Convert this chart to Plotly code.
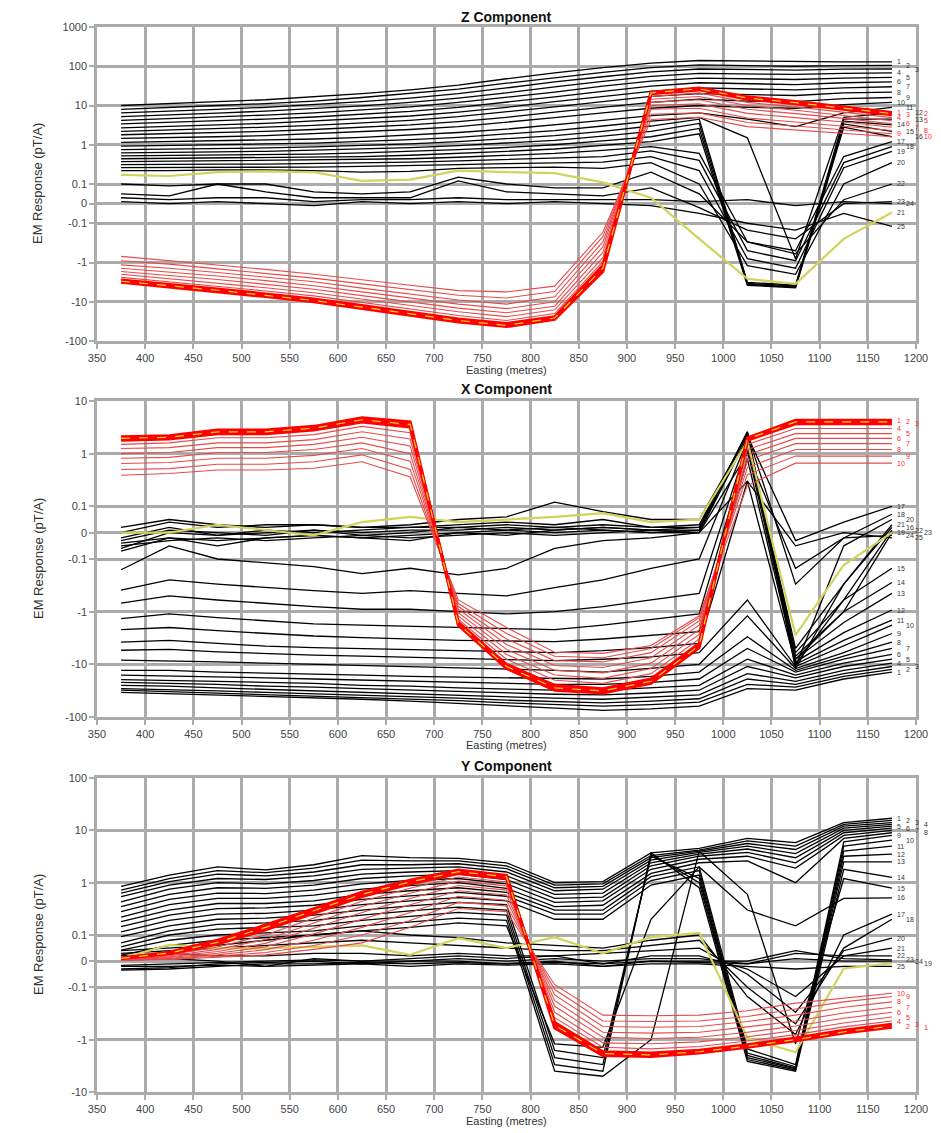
import math
import plotly.graph_objects as go

# ---------------- data ----------------
stations = [375, 425, 475, 525, 575, 625, 675, 725, 775, 825, 875, 925, 975, 1025, 1075, 1125, 1175]

# Z component, black channels 1..25 (pT/A) at each station
z_black = [
    [10, 11, 12.5, 14, 16.5, 20, 25, 33, 48, 68, 92, 120, 140, 135, 130, 130, 130],
    [8, 8.8, 10, 11.2, 13, 16, 20, 26, 37, 52, 70, 92, 108, 104, 100, 104, 105],
    [6.5, 7.1, 8, 9, 10.5, 12.5, 15.5, 20, 28, 40, 54, 72, 85, 82, 80, 84, 85],
    [5.2, 5.7, 6.4, 7.2, 8.3, 9.8, 12, 15.5, 21, 30, 41, 55, 66, 64, 62, 66, 68],
    [4.2, 4.6, 5.1, 5.7, 6.5, 7.6, 9.2, 12, 16, 22, 31, 42, 50, 48, 46, 50, 52],
    [3.4, 3.7, 4.1, 4.5, 5.1, 5.9, 7.1, 9, 12, 16.5, 23, 31, 38, 36, 34, 38, 40],
    [2.7, 2.9, 3.2, 3.5, 4, 4.6, 5.4, 6.8, 9, 12.5, 17, 23, 28, 26, 25, 28, 30],
    [2.2, 2.35, 2.55, 2.8, 3.1, 3.6, 4.2, 5.2, 6.8, 9.2, 12.5, 17, 20, 19, 18, 21, 22],
    [1.8, 1.9, 2.05, 2.2, 2.45, 2.8, 3.2, 3.9, 5, 6.8, 9, 12, 14.5, 13, 12.5, 15, 16],
    [1.45, 1.5, 1.6, 1.7, 1.9, 2.15, 2.45, 2.9, 3.7, 4.9, 6.5, 8.5, 10, 9, 8.5, 10.5, 12],
    [1.15, 1.2, 1.25, 1.3, 1.4, 1.55, 1.75, 2.05, 2.5, 3.2, 4.2, 5.5, 6.5, 4.5, 2.9, 6.5, 9],
    [0.92, 0.95, 1.0, 1.05, 1.1, 1.2, 1.35, 1.55, 1.85, 2.3, 3, 4, 5, 1.5, -0.8, 5, 6.5],
    [0.75, 0.77, 0.8, 0.83, 0.88, 0.95, 1.05, 1.2, 1.4, 1.7, 2.2, 3, 4.5, -3.2, -3.8, 4.5, 4.5],
    [0.62, 0.63, 0.66, 0.68, 0.72, 0.76, 0.84, 0.95, 1.1, 1.3, 1.65, 2.2, 3.5, -3.4, -4, 4, 3.2],
    [0.52, 0.53, 0.55, 0.56, 0.58, 0.62, 0.67, 0.75, 0.85, 1.0, 1.25, 1.6, 2.6, -3.6, -4.2, 3.4, 2.2],
    [0.44, 0.45, 0.46, 0.47, 0.48, 0.5, 0.54, 0.6, 0.68, 0.78, 0.95, 1.2, 1.9, -3.8, -4.4, 2.8, 1.6],
    [0.37, 0.38, 0.38, 0.39, 0.4, 0.41, 0.44, 0.48, 0.54, 0.6, 0.72, 0.9, 0.6, -0.3, -0.5, 0.5, 1.2],
    [0.31, 0.32, 0.32, 0.32, 0.33, 0.34, 0.36, 0.39, 0.43, 0.47, 0.5, 0.7, 0.4, -0.5, -0.9, 0.35, 0.9],
    [0.26, 0.26, 0.27, 0.27, 0.27, 0.28, 0.29, 0.31, 0.33, 0.35, 0.36, 0.5, 0.22, -0.8, -1.4, 0.26, 0.68],
    [0.22, 0.22, 0.23, 0.23, 0.22, 0.2, 0.21, 0.25, 0.26, 0.27, 0.25, 0.35, 0.1, -1.2, -2, 0.1, 0.35],
    [0.17, 0.16, 0.2, 0.21, 0.2, 0.12, 0.13, 0.22, 0.2, 0.19, 0.11, 0.03, -0.25, -2.6, -3.5, -0.25, -0.045],
    [0.1, 0.09, 0.1, 0.1, 0.06, 0.05, 0.06, 0.15, 0.1, 0.08, 0.08, 0.2, 0.05, -0.3, -0.6, 0.02, 0.1],
    [0.05, 0.04, 0.1, 0.06, 0.03, 0.03, 0.03, 0.12, 0.06, 0.05, 0.04, 0.08, -0.02, -0.15, -0.25, 0.0, 0.01],
    [0.03, 0.02, 0.03, 0.03, 0.01, 0.02, 0.02, 0.03, 0.02, 0.02, 0.02, 0.02, 0.01, 0.02, -0.01, 0.01, 0.0],
    [0.01, 0.0, 0.01, 0.0, -0.01, 0.01, 0.0, 0.01, 0.0, 0.01, 0.0, -0.01, -0.05, -0.1, -0.15, -0.05, -0.12],
]
z_yellow = 21  # channel number drawn in yellow

# Z component, red channels 1..10, one row per station
z_red_rows = [
    [-3.2, -3.0, -2.8, -2.4, -2.0, -1.7, -1.4, -1.15, -0.9, -0.7],
    [-4.2, -3.9, -3.6, -3.1, -2.6, -2.1, -1.75, -1.4, -1.1, -0.89],
    [-5.5, -5.1, -4.7, -4.0, -3.3, -2.7, -2.2, -1.8, -1.45, -1.17],
    [-7.4, -6.9, -6.3, -5.3, -4.4, -3.6, -2.9, -2.35, -1.9, -1.5],
    [-10, -9.3, -8.5, -7.1, -5.9, -4.8, -3.9, -3.1, -2.5, -2.0],
    [-14.8, -13.7, -12.5, -10.4, -8.6, -7.0, -5.6, -4.5, -3.5, -2.7],
    [-22, -20, -18.5, -15.3, -12.5, -10, -8, -6.3, -4.9, -3.8],
    [-33, -30, -27.5, -22.5, -18, -14.5, -11.5, -9, -6.8, -5.2],
    [-43, -40, -36, -30, -24, -19, -15, -11.5, -8, -5.6],
    [-28, -26, -24, -20, -16, -13, -10, -7.5, -5.5, -4.0],
    [-1.7, -1.4, -1.2, -0.95, -0.75, -0.55, -0.4, -0.3, -0.22, -0.17],
    [22, 21, 20, 17, 14.5, 12, 10, 8, 6, 4.4],
    [28, 26.5, 25, 21, 17, 14, 11, 8.5, 6.5, 5.0],
    [16.6, 15.5, 14.5, 12, 10, 8, 6.3, 4.8, 3.7, 2.9],
    [12.6, 11.8, 11, 9.2, 7.6, 6.2, 4.9, 3.8, 3.0, 2.4],
    [9.3, 8.7, 8.1, 6.8, 5.7, 4.7, 3.8, 3.0, 2.4, 2.0],
    [6.6, 6.2, 5.8, 4.9, 4.1, 3.4, 2.8, 2.3, 1.9, 1.6],
]

# X component, black channels 1..25
x_black = [
    [-34, -36, -38, -40, -43, -46, -50, -55, -60, -66, -75, -70, -62, -29, -31, -19, -14],
    [-31, -33, -35, -37, -40, -42, -45, -49, -54, -58, -62, -58, -52, -24, -27, -17, -12.5],
    [-29, -30, -32, -34, -36, -38, -41, -44, -48, -51, -54, -50, -45, -19, -24, -15, -11],
    [-25, -26, -28, -30, -32, -34, -36, -39, -42, -44, -46, -42, -38, -15, -21, -13, -9.5],
    [-22, -23, -24, -26, -27, -29, -31, -33, -35, -37, -38, -35, -31, -11, -18, -11, -8],
    [-19.5, -20, -21, -22, -23, -25, -26, -28, -29, -31, -31, -28, -25, -8, -16, -9.5, -6.5],
    [-16, -16.5, -17, -18, -19, -20, -21, -22, -23, -24, -24, -22, -19, -5, -14, -8, -5],
    [-13, -13, -14, -14.5, -15, -16, -17, -17.5, -18, -19, -19, -17, -14, -3, -13, -7, -3.8],
    [-8.3, -8.5, -9, -9.5, -10, -10.5, -11, -11.5, -12, -13, -14, -12, -10, -1.2, -12, -6, -2.6],
    [-5.4, -5.2, -5.8, -6.3, -6.7, -7.0, -7.3, -7.8, -8.2, -8.5, -8.0, -7.2, -6.0, -0.6, -11, -4.5, -1.8],
    [-3.8, -3.5, -4.0, -4.5, -4.8, -5.0, -5.2, -5.5, -5.8, -6.0, -5.5, -4.8, -4.0, 0.3, -10, -3.5, -1.45],
    [-2.2, -2.0, -2.3, -2.6, -2.9, -3.1, -3.3, -3.5, -3.6, -3.7, -3.3, -2.8, -2.4, 0.8, -9, -2.5, -0.93],
    [-1.35, -1.1, -1.3, -1.5, -1.7, -1.8, -1.9, -2.0, -2.1, -2.2, -1.8, -1.4, -1.1, 1.2, -8, -1.6, -0.45],
    [-0.69, -0.5, -0.6, -0.7, -0.8, -0.9, -0.9, -1.0, -1.1, -1.0, -0.8, -0.6, -0.45, 1.5, -7, -1.0, -0.28],
    [-0.39, -0.25, -0.3, -0.35, -0.4, -0.45, -0.4, -0.45, -0.5, -0.35, -0.25, -0.15, -0.1, 1.8, -6, -0.6, -0.15],
    [-0.16, -0.05, -0.1, -0.12, -0.14, -0.19, -0.15, -0.2, -0.15, -0.06, -0.03, -0.02, 0.0, 2.0, -5, -0.3, 0.02],
    [0.02, 0.05, 0.03, 0.02, 0.03, 0.02, 0.03, 0.05, 0.06, 0.12, 0.08, 0.05, 0.05, 2.2, -0.03, 0.04, 0.1],
    [0.0, 0.04, 0.02, 0.03, 0.03, 0.02, 0.02, 0.03, 0.04, 0.03, 0.05, 0.02, 0.03, 2.4, -0.3, -0.02, 0.07],
    [0.0, 0.0, 0.03, 0.01, -0.01, 0.04, 0.06, 0.04, 0.05, 0.06, 0.074, 0.04, 0.05, 1.7, -2.8, -0.13, 0.0],
    [-0.02, 0.02, -0.01, 0.01, 0.0, 0.01, 0.02, 0.02, 0.03, 0.02, 0.03, 0.02, 0.02, 2.6, -11, -0.05, 0.05],
    [-0.03, 0.01, 0.0, -0.01, 0.01, 0.0, 0.01, 0.01, 0.02, 0.01, 0.02, 0.01, 0.02, 2.6, -12, -0.3, 0.03],
    [-0.04, -0.02, -0.05, -0.02, -0.01, -0.02, -0.01, 0.0, 0.01, 0.0, 0.01, 0.0, 0.01, 2.5, -10, -0.6, 0.01],
    [-0.05, -0.03, -0.02, -0.03, -0.02, -0.01, -0.02, -0.01, 0.0, -0.01, 0.0, 0.01, 0.01, 2.0, -8, -1.0, 0.0],
    [-0.06, 0.0, -0.01, 0.0, 0.01, -0.01, 0.0, 0.02, 0.01, 0.02, 0.01, 0.0, 0.0, 1.0, -0.15, -0.02, -0.01],
    [-0.07, -0.02, -0.03, -0.02, -0.01, -0.02, -0.03, 0.0, -0.01, 0.01, 0.02, 0.01, 0.0, 0.3, -0.05, 0.0, -0.02],
]
x_yellow = 19

x_red_rows = [
    [2.1, 1.95, 1.8, 1.5, 1.25, 1.0, 0.82, 0.65, 0.5, 0.39],
    [2.2, 2.05, 1.9, 1.6, 1.3, 1.05, 0.85, 0.68, 0.52, 0.42],
    [2.8, 2.6, 2.4, 2.0, 1.6, 1.3, 1.05, 0.82, 0.63, 0.49],
    [2.8, 2.6, 2.4, 2.0, 1.6, 1.3, 1.05, 0.82, 0.63, 0.49],
    [3.3, 3.05, 2.8, 2.3, 1.85, 1.5, 1.2, 0.93, 0.7, 0.53],
    [4.8, 4.4, 4.0, 3.3, 2.6, 2.05, 1.6, 1.25, 0.95, 0.7],
    [4.0, 3.6, 3.2, 2.5, 1.9, 1.4, 1.0, 0.72, 0.5, 0.36],
    [-1.8, -1.7, -1.6, -1.4, -1.2, -1.05, -0.9, -0.8, -0.7, -0.6],
    [-12, -11, -10, -8, -6.5, -5.2, -4.2, -3.3, -2.6, -2.0],
    [-31, -28, -25, -20, -16, -13, -10.5, -8.5, -7, -5.9],
    [-35, -32, -29, -23, -18.5, -14.5, -11.5, -9, -7.5, -6.2],
    [-23, -21, -19, -15, -12, -9.5, -7.5, -6, -5, -4.4],
    [-4.8, -4.4, -4.0, -3.3, -2.7, -2.2, -1.8, -1.5, -1.3, -1.2],
    [2.0, 1.9, 1.8, 1.5, 1.2, 0.95, 0.75, 0.55, 0.4, 0.25],
    [4.3, 4.0, 3.7, 3.0, 2.4, 1.95, 1.55, 1.2, 0.9, 0.66],
    [4.3, 4.0, 3.7, 3.0, 2.4, 1.95, 1.55, 1.2, 0.9, 0.66],
    [4.3, 4.0, 3.7, 3.0, 2.4, 1.95, 1.55, 1.2, 0.9, 0.66],
]

# Y component, black channels 1..25
y_black = [
    [0.85, 1.4, 2.0, 1.75, 2.2, 3.3, 3.0, 2.9, 2.4, 1.0, 1.05, 3.7, 4.5, 7, 5.8, 14, 17],
    [0.72, 1.2, 1.7, 1.55, 1.9, 2.7, 2.6, 2.6, 2.1, 0.9, 0.95, 3.3, 4.2, 6.3, 5.0, 13, 15.5],
    [0.63, 1.05, 1.45, 1.35, 1.6, 2.2, 2.2, 2.3, 1.85, 0.8, 0.85, 3.0, 4.0, 5.6, 4.3, 12, 14],
    [0.54, 0.9, 1.2, 1.15, 1.35, 1.8, 1.9, 2.0, 1.6, 0.7, 0.75, 2.7, 3.8, 5.0, 3.6, 11, 13],
    [0.43, 0.75, 1.0, 0.95, 1.1, 1.45, 1.6, 1.7, 1.35, 0.6, 0.63, 2.4, 3.5, 4.4, 3.0, 10, 12],
    [0.35, 0.6, 0.8, 0.78, 0.9, 1.2, 1.35, 1.45, 1.15, 0.5, 0.53, 2.1, 3.2, 3.8, 2.4, 9, 11],
    [0.28, 0.48, 0.63, 0.62, 0.72, 0.95, 1.1, 1.2, 0.95, 0.42, 0.45, 1.8, 2.8, 3.2, 1.9, 8, 10],
    [0.22, 0.38, 0.5, 0.5, 0.58, 0.75, 0.88, 1.0, 0.78, 0.35, 0.37, 1.5, 2.4, 2.6, 1.0, 7, 9],
    [0.18, 0.3, 0.4, 0.4, 0.45, 0.6, 0.7, 0.8, 0.65, 0.3, 0.3, 1.3, 2.0, -1.5, -3.0, 6, 8],
    [0.145, 0.24, 0.32, 0.33, 0.37, 0.48, 0.56, 0.65, 0.55, 0.25, 0.25, 1.1, 1.7, -1.8, -3.3, 5, 6.5],
    [0.115, 0.19, 0.25, 0.26, 0.3, 0.38, 0.45, 0.52, 0.45, 0.2, 0.2, 0.9, 1.4, -2.0, -3.5, 4, 5],
    [0.094, 0.15, 0.2, 0.21, 0.24, 0.3, 0.36, 0.42, 0.38, -1.6, -2.2, 3.2, 1.2, -2.2, -3.6, 3.2, 3.5],
    [0.07, 0.12, 0.16, 0.17, 0.19, 0.24, 0.29, 0.34, 0.3, -2.2, -3.0, 3.5, 1.0, -2.4, -3.8, 2.5, 2.5],
    [0.055, 0.1, 0.13, 0.14, 0.15, 0.19, 0.23, 0.27, 0.24, -3.0, -4.0, 3.7, 0.8, -2.6, -4.0, 1.8, 1.26],
    [0.042, 0.08, 0.1, 0.11, 0.12, 0.15, 0.18, 0.21, 0.19, -4.0, -5.0, -1.0, 4.0, 0.6, -1.2, 1.2, 0.79],
    [0.023, 0.06, 0.08, 0.09, 0.1, 0.12, 0.14, 0.17, 0.15, -1.2, -1.4, 0.2, 2.0, 0.3, 0.15, 0.5, 0.51],
    [0.04, 0.05, 0.06, 0.08, 0.1, 0.12, 0.1, 0.09, 0.07, 0.06, 0.05, 0.08, 0.1, -0.15, -0.8, 0.1, 0.25],
    [0.03, 0.04, 0.05, 0.06, 0.07, 0.08, 0.07, 0.06, 0.05, 0.04, 0.04, 0.06, 0.08, -0.1, -0.5, 0.05, 0.2],
    [0.01, 0.062, 0.05, 0.05, 0.055, 0.06, 0.024, 0.088, 0.05, 0.092, 0.03, 0.092, 0.11, -0.93, -1.74, -0.028, -0.008],
    [0.02, 0.03, 0.02, 0.02, 0.03, 0.03, 0.02, 0.03, 0.02, 0.02, 0.03, 0.04, 0.05, -0.05, -0.3, 0.04, 0.088],
    [0.004, 0.01, 0.0, -0.02, 0.01, 0.0, 0.01, 0.02, 0.01, 0.02, -0.01, 0.02, 0.02, -0.03, -0.15, 0.02, 0.05],
    [-0.016, -0.01, -0.005, 0.0, 0.005, 0.0, 0.0, 0.01, 0.0, 0.01, 0.0, 0.01, 0.01, -0.01, 0.03, 0.02, 0.02],
    [-0.03, -0.025, -0.01, -0.005, 0.0, -0.01, 0.0, 0.0, -0.01, 0.0, -0.02, 0.0, 0.0, 0.0, 0.04, 0.01, 0.005],
    [-0.034, -0.03, -0.02, -0.01, -0.01, -0.005, -0.01, -0.005, -0.01, -0.005, -0.01, 0.0, -0.005, -0.01, 0.01, 0.0, 0.0],
    [-0.02, -0.02, -0.015, -0.02, -0.015, -0.01, -0.02, -0.01, -0.015, -0.01, -0.02, -0.01, -0.01, -0.02, -0.03, -0.02, -0.02],
]
y_yellow = 19

y_red_rows = [
    [0.012, 0.011, 0.010, 0.009, 0.008, 0.007, 0.006, 0.005, 0.004, 0.003],
    [0.034, 0.031, 0.028, 0.024, 0.02, 0.017, 0.014, 0.011, 0.009, 0.007],
    [0.08, 0.072, 0.065, 0.054, 0.045, 0.037, 0.03, 0.024, 0.019, 0.015],
    [0.155, 0.14, 0.125, 0.1, 0.083, 0.068, 0.055, 0.044, 0.033, 0.024],
    [0.32, 0.29, 0.26, 0.21, 0.17, 0.135, 0.105, 0.08, 0.06, 0.045],
    [0.66, 0.6, 0.54, 0.44, 0.35, 0.27, 0.2, 0.14, 0.1, 0.07],
    [1.12, 1.03, 0.94, 0.78, 0.63, 0.5, 0.38, 0.27, 0.19, 0.14],
    [1.74, 1.62, 1.5, 1.28, 1.07, 0.88, 0.7, 0.55, 0.42, 0.32],
    [1.38, 1.3, 1.2, 1.03, 0.87, 0.72, 0.58, 0.46, 0.36, 0.28],
    [-0.6, -0.53, -0.47, -0.38, -0.3, -0.23, -0.18, -0.14, -0.11, -0.09],
    [-2.0, -1.85, -1.7, -1.4, -1.15, -0.9, -0.72, -0.56, -0.44, -0.34],
    [-2.1, -1.95, -1.8, -1.5, -1.2, -0.95, -0.75, -0.58, -0.45, -0.35],
    [-1.8, -1.7, -1.6, -1.35, -1.1, -0.9, -0.72, -0.56, -0.44, -0.34],
    [-1.4, -1.33, -1.25, -1.06, -0.88, -0.72, -0.57, -0.45, -0.36, -0.28],
    [-1.05, -1.0, -0.93, -0.8, -0.67, -0.55, -0.44, -0.34, -0.26, -0.2],
    [-0.75, -0.71, -0.66, -0.57, -0.48, -0.39, -0.31, -0.24, -0.19, -0.16],
    [-0.58, -0.55, -0.51, -0.44, -0.37, -0.3, -0.24, -0.19, -0.15, -0.13],
]

z_ticks = [1000, 100, 10, 1, 0.1, 0, -0.1, -1, -10, -100]
x_ticks = [10, 1, 0.1, 0, -0.1, -1, -10, -100]
y_ticks = [100, 10, 1, 0.1, 0, -0.1, -1, -10]
x_tick_vals = [350, 400, 450, 500, 550, 600, 650, 700, 750, 800, 850, 900, 950, 1000, 1050, 1100, 1150, 1200]

titles = ["Z Component", "X Component", "Y Component"]


# symmetric-log scale: linear within +/-0.1, logarithmic beyond
def sym(v):
    a = abs(v)
    if a <= 0.1:
        return 5.0 * v
    return math.copysign(math.log10(a) + 1.5, v)


def tick_text(v):
    if v == 0:
        return "0"
    if abs(v) < 1:
        return ("-" if v < 0 else "") + "0.1"
    return str(int(v))


# the page body has an 8 px margin, so the figure is offset by OFF px on screen
OFF = 8
W, H = 941 - OFF, 1133 - OFF


def px_x(sx):  # screen x -> paper fraction
    return (sx - OFF) / W


def px_y(sy):  # screen y -> paper fraction
    return 1 - (sy - OFF) / H


left_px, right_px = 97, 916
panels = [
    dict(black=z_black, red=z_red_rows, yellow=z_yellow, ticks=z_ticks, top=27, bottom=341,
         title_y=17, xlab_y=370),
    dict(black=x_black, red=x_red_rows, yellow=x_yellow, ticks=x_ticks, top=401, bottom=717,
         title_y=389, xlab_y=745),
    dict(black=y_black, red=y_red_rows, yellow=y_yellow, ticks=y_ticks, top=778, bottom=1092,
         title_y=766, xlab_y=1121),
]

fig = go.Figure()
annotations = []
grid = "#ababab"
LABEL_FONT = 7
LABEL_GAP = 7.5     # min vertical pixel gap between labels in one column
COL_W = 9           # column width (px) for stacked end labels
MAX_COLS = 4

for k, p in enumerate(panels):
    sfx = "" if k == 0 else str(k + 1)
    xa, ya = "x" + sfx, "y" + sfx
    common = dict(xaxis=xa, yaxis=ya, showlegend=False, hoverinfo="skip")

    # black channels
    for i, ch in enumerate(p["black"]):
        if i + 1 == p["yellow"]:
            continue
        fig.add_trace(go.Scatter(x=stations, y=[sym(v) for v in ch], mode="lines",
                                 line=dict(color="black", width=1.3), **common))
    ych = p["black"][p["yellow"] - 1]
    fig.add_trace(go.Scatter(x=stations, y=[sym(v) for v in ych], mode="lines",
                             line=dict(color="#d2d25c", width=2.2), **common))

    # red channels (thin late channels first, thick early channels last)
    red_ch = [list(c) for c in zip(*p["red"])]
    for j in reversed(range(len(red_ch))):
        thick = j < 3
        fig.add_trace(go.Scatter(x=stations, y=[sym(v) for v in red_ch[j]], mode="lines",
                                 line=dict(color="#ff0000" if thick else "#e84a4a",
                                           width=3 if thick else 1.1), **common))
    fig.add_trace(go.Scatter(x=stations, y=[sym(v) for v in red_ch[1]], mode="lines",
                             line=dict(color="#ffd21e", width=1.2, dash="dash"), **common))

    tv = [sym(v) for v in p["ticks"]]
    fmin, fmax = min(tv), max(tv)
    ppu = (p["bottom"] - p["top"]) / (fmax - fmin)  # pixels per unit

    # channel labels at line ends, stacked into small columns where crowded
    labels = [(sym(ch[-1]), str(i + 1), "#333333") for i, ch in enumerate(p["black"])]
    labels += [(sym(c[-1]), str(i + 1), "#ff1a1a") for i, c in enumerate(red_ch)]
    labels.sort(key=lambda t: -t[0])
    cols = [[] for _ in range(MAX_COLS)]
    for fval, txt, col in labels:
        py = (fmax - fval) * ppu
        best, best_d = 0, -1
        for c in range(MAX_COLS):
            d = min([abs(py - q) for q in cols[c]] or [1e9])
            if d >= LABEL_GAP:
                best = c
                break
            if d > best_d:
                best, best_d = c, d
        cols[best].append(py)
        annotations.append(dict(text=txt, x=stations[-1] + 3, y=fval, xref=xa, yref=ya,
                                xanchor="left", yanchor="middle", showarrow=False,
                                xshift=best * COL_W,
                                font=dict(size=LABEL_FONT, color=col, family="Arial")))

    ydom = [px_y(p["bottom"]), px_y(p["top"])]
    axis_style = dict(showgrid=True, gridcolor=grid, gridwidth=2.5, showline=True,
                      linecolor=grid, linewidth=2.5, mirror=True, ticks="outside",
                      ticklen=5, tickcolor=grid, tickwidth=2, zeroline=False,
                      automargin=False,
                      tickfont=dict(size=11, color="#444444", family="Arial"))
    fig.update_layout(**{
        "xaxis" + sfx: dict(domain=[px_x(left_px), px_x(right_px)], range=[350, 1200],
                            tickvals=x_tick_vals, anchor=ya, **axis_style),
        "yaxis" + sfx: dict(domain=ydom, range=[fmin, fmax], tickvals=tv,
                            ticktext=[tick_text(v) for v in p["ticks"]], anchor=xa,
                            **axis_style),
    })

    annotations.append(dict(text="<b>" + titles[k] + "</b>", x=px_x((left_px + right_px) / 2),
                            y=px_y(p["title_y"]), xref="paper", yref="paper",
                            showarrow=False, font=dict(size=14, color="#111", family="Arial"),
                            xanchor="center", yanchor="middle"))
    annotations.append(dict(text="Easting (metres)", x=px_x(507),
                            y=px_y(p["xlab_y"]), xref="paper", yref="paper",
                            showarrow=False, font=dict(size=11, color="#333", family="Arial"),
                            xanchor="center", yanchor="middle"))
    annotations.append(dict(text="EM Response (pT/A)", x=px_x(38),
                            y=px_y((p["top"] + p["bottom"]) / 2), xref="paper", yref="paper",
                            showarrow=False, textangle=-90,
                            font=dict(size=13, color="#333", family="Arial"),
                            xanchor="center", yanchor="middle"))

fig.update_layout(width=W, height=H, margin=dict(l=0, r=0, t=0, b=0, autoexpand=False),
                  paper_bgcolor="white", plot_bgcolor="white",
                  annotations=annotations, font=dict(family="Arial"))

fig.write_html("out.html")
